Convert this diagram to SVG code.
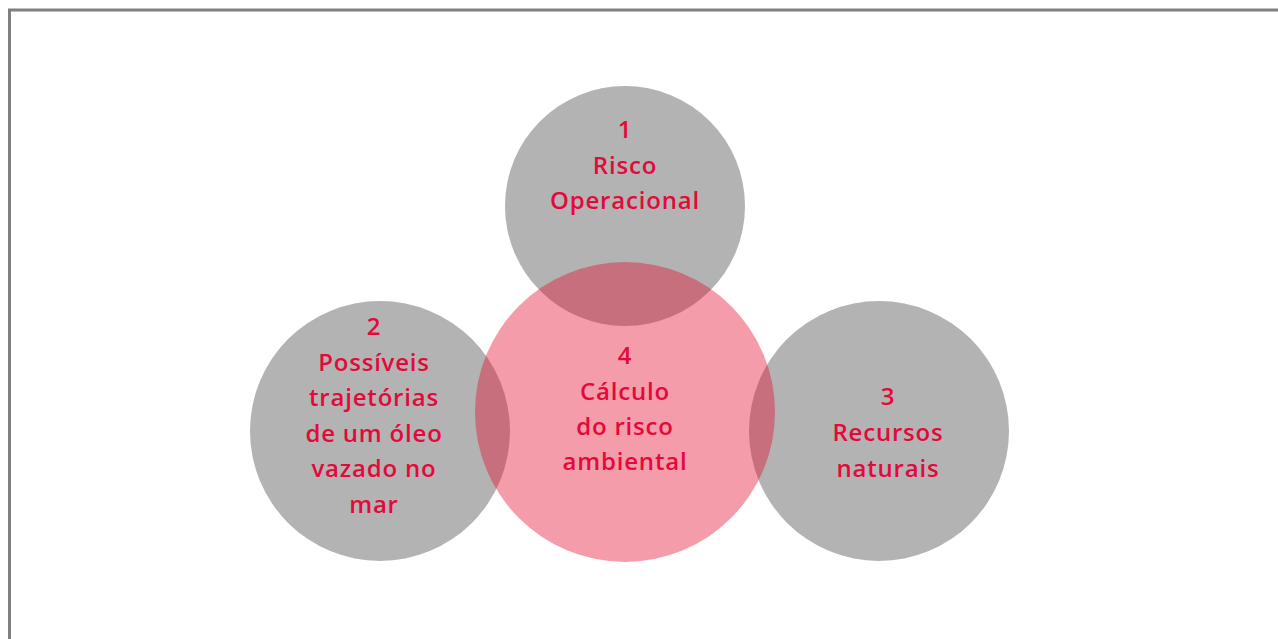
<svg xmlns="http://www.w3.org/2000/svg" width="1278" height="639" viewBox="0 0 1278 639">
<style>
.g{fill:#b3b3b3}
.p{fill:#e40f31;fill-opacity:0.41}
.t{font-family:"Open Sans","Liberation Sans",sans-serif;font-size:24px;font-weight:600;letter-spacing:0.8px;fill:#e3093a;text-anchor:middle}
</style>
<rect x="0" y="0" width="1278" height="639" fill="#ffffff"/>
<path d="M9.5 639 V10 H1278" fill="none" stroke="#808080" stroke-width="3"/>
<g id="node1"><circle class="g" cx="625" cy="206" r="120"/></g>
<g id="node2"><circle class="g" cx="380" cy="431" r="130"/></g>
<g id="node3"><circle class="g" cx="879" cy="431" r="130"/></g>
<g id="node4"><circle class="p" cx="625" cy="412" r="150"/></g>
<g id="connectors"></g>
<g id="labels">
<text class="t" x="625" y="138">1</text>
<text class="t" x="625" y="174">Risco</text>
<text class="t" x="625" y="209">Operacional</text>
<text class="t" x="374" y="335">2</text>
<text class="t" x="374" y="371">Possíveis</text>
<text class="t" x="374" y="406">trajetórias</text>
<text class="t" x="374" y="442">de um óleo</text>
<text class="t" x="374" y="477">vazado no</text>
<text class="t" x="374" y="513">mar</text>
<text class="t" x="888" y="405">3</text>
<text class="t" x="888" y="441">Recursos</text>
<text class="t" x="888" y="477">naturais</text>
<text class="t" x="625" y="364">4</text>
<text class="t" x="625" y="400">Cálculo</text>
<text class="t" x="625" y="435">do risco</text>
<text class="t" x="625" y="470">ambiental</text>
</g>
</svg>
